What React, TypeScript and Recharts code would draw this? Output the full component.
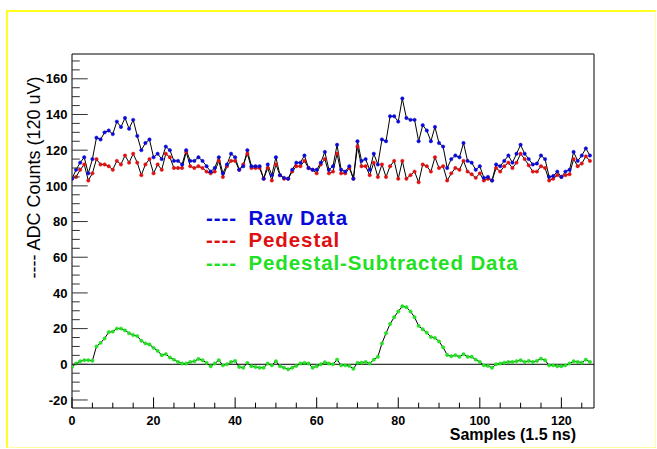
import React from 'react';
import { ComposedChart, Line, XAxis, YAxis, ReferenceLine, Legend, Label } from 'recharts';

const RAW = [
  104, 109, 113, 116, 107, 115, 127, 126, 130, 131, 129, 136, 133, 138, 132, 137,
  128, 120, 124, 126, 116, 118, 115, 122, 120, 114, 114, 112, 120, 114, 114, 116,
  114, 111, 108, 110, 116, 107, 112, 118, 116, 109, 111, 120, 111, 111, 111, 104,
  112, 106, 116, 106, 104.5, 104, 109, 113, 113, 117, 110, 109, 109, 113, 119, 109,
  111, 123, 109, 108, 111, 104, 125, 114, 115, 109, 118, 112, 126, 125, 139, 139,
  136, 149, 138, 137, 137, 125, 134, 131, 125, 133, 124, 122, 110, 115, 117, 116,
  124, 114, 113, 109, 111, 104.5, 105, 103, 112, 111, 114, 117, 113, 118, 123, 118,
  115, 112, 112.5, 117, 115, 105, 105.5, 108, 105, 108, 109, 119, 114, 117, 121, 117,
];

const PEDESTAL = [
  104, 105, 109, 112, 103, 107, 115, 112, 112, 111, 109, 114, 112, 117, 113, 118,
  113, 106, 112, 115, 107, 112, 109, 118, 116, 110, 110, 110, 119, 111, 110, 111,
  110, 108, 107, 108, 114, 105, 111, 114, 114, 109, 112, 118, 110, 110, 110, 104,
  110, 103, 112, 106, 104, 104, 108, 111, 111, 114, 110, 109, 107, 112, 115, 107,
  108, 118, 107, 107, 110, 104, 122, 111, 111, 106, 113, 105, 112, 105, 111, 114,
  104, 114, 104, 106, 108, 102, 112, 111, 108, 116, 110, 111, 103, 107, 110, 109,
  114, 108, 106.5, 104.5, 107, 103, 104, 103, 110, 108, 111, 113, 110, 113, 118, 115,
  111.5, 108, 108, 111, 110, 103, 104, 106, 105, 106, 106.5, 115, 111, 112.5, 116.5, 114,
];

const SUBTRACTED = [
  -1.5, 0.4, 1.7, 2.3, 2.3, 2, 10, 12, 14.5, 18, 18.3, 20, 20, 19, 17.4, 16.4,
  15.8, 13.2, 11.7, 11.1, 9.2, 7.5, 5.1, 5.7, 3.8, 2.6, 1.3, 0.4, 0.4, 1.3, 1.7, 3,
  2.3, 0.8, -1.1, 0.4, 2.3, -0.6, 0, 1.3, 1.9, -1.5, -1.9, 0.8, -1.1, -1.5, -1.9, -1.9,
  0.4, -0.6, 1.7, -1.1, -1.9, -2.8, -1.9, -0.9, 0.4, 0.8, 0.4, -1.9, -1.1, 0, 1.1, 0.4,
  0, 2.6, -0.6, -0.6, -0.9, -2.5, 0.8, 0.9, 1.3, 0.4, 2.6, 4.2, 11.7, 17.4, 22.6, 26.4,
  29.6, 32.5, 32, 29.6, 26.4, 21.5, 19.6, 17.7, 15.3, 14.8, 12.8, 9.5, 5.2, 4.5, 5.1, 4.2,
  5.7, 4.2, 4.2, 2.6, 1.3, -0.6, -0.9, -1.9, 0, 0.4, 0.9, 1.3, 1.3, 1.7, 2.3, 1.3,
  1.9, 1.3, 1.9, 3.2, 2.3, -0.6, -0.6, -1.1, -1.1, -0.6, 0.4, 1.7, 1.3, 0.9, 2.6, 1.3,
];

const X_TICKS = [0, 5, 10, 15, 20, 25, 30, 35, 40, 45, 50, 55, 60, 65, 70, 75, 80, 85, 90, 95, 100, 105, 110, 115, 120, 125];
const X_LABELS = [0, 20, 40, 60, 80, 100, 120];
const Y_TICKS = [
  -20, -15, -10, -5, 0, 5, 10, 15, 20, 25, 30, 35, 40, 45, 50, 55, 60, 65, 70, 75,
  80, 85, 90, 95, 100, 105, 110, 115, 120, 125, 130, 135, 140, 145, 150, 155, 160, 165, 170,
];
const Y_LABELS = [-20, 0, 20, 40, 60, 80, 100, 120, 140, 160];
const X_DOMAIN = [0, 128];
const Y_DOMAIN = [-24.5, 173.9];

const SERIES = [
  { key: 'raw', name: 'Raw Data', color: '#0a0ad8' },
  { key: 'pedestal', name: 'Pedestal', color: '#e01010' },
  { key: 'subtracted', name: 'Pedestal-Subtracted Data', color: '#22e022' },
];

const X_TITLE = 'Samples (1.5 ns)';
const Y_TITLE = '---- ADC Counts (120 uV)';

const data = RAW.map((v, i) => ({
  sample: i,
  raw: v,
  pedestal: PEDESTAL[i],
  subtracted: SUBTRACTED[i],
}));

const FONT = '"Liberation Sans", Arial, Helvetica, sans-serif';
const Y_TICK_MARGIN = 4.5;
const X_TICK_MARGIN = 7.5;

const YTick = (props: any) => {
  const { x, y, payload } = props;
  const v = payload.value;
  const major = Y_LABELS.includes(v);
  const ax = x + Y_TICK_MARGIN;
  return (
    <g>
      <line x1={ax} x2={ax + (major ? 15.7 : 7.8)} y1={y} y2={y} stroke="#333" strokeWidth={1} />
      {major && (
        <text x={x} y={y} dy="0.36em" textAnchor="end" fontFamily={FONT} fontWeight="bold" fontSize={13} fill="#000">
          {v}
        </text>
      )}
    </g>
  );
};

const XTick = (props: any) => {
  const { x, y, payload } = props;
  const v = payload.value;
  const major = X_LABELS.includes(v);
  const ay = y - X_TICK_MARGIN;
  return (
    <g>
      <line x1={x} x2={x} y1={ay} y2={ay - (major ? 10.6 : 5.3)} stroke="#000" strokeWidth={1} />
      {major && (
        <text x={x} y={y} dy="0.72em" textAnchor="middle" fontFamily={FONT} fontWeight="bold" fontSize={12.5} fill="#000">
          {v}
        </text>
      )}
    </g>
  );
};

const XTitle = (props: any) => {
  const vb = props.viewBox || {};
  return (
    <text
      x={vb.x + vb.width - 18}
      y={vb.y + 32}
      textAnchor="end"
      fontFamily={FONT}
      fontWeight="bold"
      fontSize={16}
      fill="#000"
    >
      {X_TITLE}
    </text>
  );
};

const YTitle = (props: any) => {
  const vb = props.viewBox || {};
  const cx = vb.x + 28;
  const cy = vb.y + 123.5;
  return (
    <text
      x={cx}
      y={cy}
      transform={`rotate(-90, ${cx}, ${cy})`}
      textAnchor="middle"
      fontFamily={FONT}
      fontSize={18}
      fill="#000"
    >
      {Y_TITLE}
    </text>
  );
};

const LegendContent = () => (
  <div
    style={{
      fontFamily: FONT,
      fontWeight: 'bold',
      fontSize: 20.5,
      letterSpacing: 0.9,
      lineHeight: '22.35px',
      whiteSpace: 'nowrap',
    }}
  >
    {SERIES.map((s) => (
      <div key={s.key} style={{ color: s.color, height: 22.35 }}>
        <span style={{ display: 'inline-block', width: 42.5 }}>----</span>
        <span>{s.name}</span>
      </div>
    ))}
  </div>
);

export default function App() {
  const colorOf = (k: string) => SERIES.find((s) => s.key === k)!.color;
  const nameOf = (k: string) => SERIES.find((s) => s.key === k)!.name;
  const drawOrder = ['pedestal', 'raw', 'subtracted'];
  return (
    <div style={{ position: 'absolute', left: 0, top: 0, width: 657, height: 449, background: '#fff' }}>
      <div
        style={{
          position: 'absolute',
          left: 6,
          top: 10,
          width: 650,
          height: 438,
          boxSizing: 'border-box',
          borderTop: '2px solid #ffff22',
          borderLeft: '2px solid #ffff22',
          borderRight: '1px solid #ffffa0',
          borderBottom: '1px solid #ffffa0',
        }}
      />
      <ComposedChart
        width={657}
        height={449}
        data={data}
        margin={{ top: 54, right: 63, bottom: 11, left: 12 }}
        style={{ position: 'absolute', left: 0, top: 0 }}
      >
        <XAxis
          type="number"
          dataKey="sample"
          domain={X_DOMAIN}
          ticks={X_TICKS}
          interval={0}
          height={30}
          tickSize={0}
          tickMargin={X_TICK_MARGIN}
          tick={<XTick />}
          axisLine={{ stroke: '#000', strokeWidth: 1 }}
          allowDataOverflow
        >
          <Label content={<XTitle />} />
        </XAxis>
        <YAxis
          type="number"
          domain={Y_DOMAIN}
          ticks={Y_TICKS}
          interval={0}
          width={60}
          tickSize={0}
          tickMargin={Y_TICK_MARGIN}
          tick={<YTick />}
          axisLine={{ stroke: '#000', strokeWidth: 1 }}
          allowDataOverflow
        >
          <Label content={<YTitle />} />
        </YAxis>
        <ReferenceLine y={Y_DOMAIN[1]} stroke="#000" strokeWidth={1} />
        <ReferenceLine x={X_DOMAIN[1]} stroke="#555" strokeWidth={1.5} />
        <ReferenceLine y={0} stroke="#000" strokeWidth={1} />
        {drawOrder.map((k) => (
          <Line
            key={k}
            type="linear"
            dataKey={k}
            name={nameOf(k)}
            stroke="#000"
            strokeWidth={1}
            dot={{ r: 1.7, fill: colorOf(k), stroke: colorOf(k), strokeWidth: 0.5 }}
            activeDot={false}
            isAnimationActive={false}
          />
        ))}
        <Legend
          content={<LegendContent />}
          layout="vertical"
          align="center"
          verticalAlign="middle"
          wrapperStyle={{ left: 206, top: 207, width: 'auto' }}
        />
      </ComposedChart>
    </div>
  );
}
